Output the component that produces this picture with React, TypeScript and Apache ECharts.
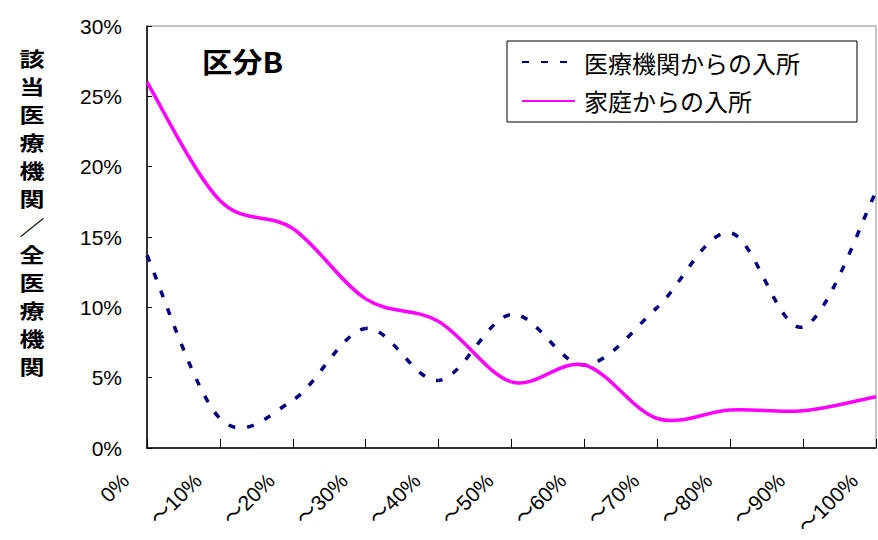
import React, { useEffect, useRef } from 'react';
import * as echarts from 'echarts';

const categories = ['0%', '～10%', '～20%', '～30%', '～40%', '～50%', '～60%', '～70%', '～80%', '～90%', '～100%'];
const medicalValues = [13.7, 2.1, 3.4, 8.5, 4.8, 9.5, 5.9, 10.0, 15.3, 8.6, 18.2];
const homeValues = [26.0, 17.6, 15.6, 10.6, 9.0, 4.7, 5.9, 2.1, 2.7, 2.65, 3.65];
const seriesNames = ['医療機関からの入所', '家庭からの入所'];
const yAxisTitle = '該当医療機関／全医療機関';
const chartTitle = '区分B';
const yMin = 0;
const yMax = 30;
const yStep = 5;

const JP = '"Noto Sans CJK JP", sans-serif';
const LAT = '"Liberation Sans", Arial, "Noto Sans CJK JP", sans-serif';

type Pt = number[];

function smoothSegments(pts: Pt[]) {
  const segs: Pt[][] = [];
  for (let i = 0; i < pts.length - 1; i++) {
    const p0 = pts[i];
    const p1 = pts[i + 1];
    const pm = pts[i - 1] || p0;
    const pn = pts[i + 2] || p1;
    const c1 = [p0[0] + (p1[0] - pm[0]) / 6, p0[1] + (p1[1] - pm[1]) / 6];
    const c2 = [p1[0] - (pn[0] - p0[0]) / 6, p1[1] - (pn[1] - p0[1]) / 6];
    segs.push([p0, c1, c2, p1]);
  }
  return segs;
}

function bezLen(s: Pt[]) {
  let len = 0;
  let px = s[0][0];
  let py = s[0][1];
  for (let k = 1; k <= 24; k++) {
    const t = k / 24;
    const u = 1 - t;
    const x = u * u * u * s[0][0] + 3 * u * u * t * s[1][0] + 3 * u * t * t * s[2][0] + t * t * t * s[3][0];
    const y = u * u * u * s[0][1] + 3 * u * u * t * s[1][1] + 3 * u * t * t * s[2][1] + t * t * t * s[3][1];
    len += Math.hypot(x - px, y - py);
    px = x;
    py = y;
  }
  return len;
}

function makeRenderItem(values: number[], color: string, dash: number[] | null) {
  return (params: any, api: any) => {
    const i = params.dataIndex;
    if (i >= values.length - 1) return null;
    const pts = values.map((v, k) => api.coord([k, v]));
    const segs = smoothSegments(pts);
    let offset = 0;
    for (let k = 0; k < i; k++) offset += bezLen(segs[k]);
    const [a, c1, c2, b] = segs[i];
    return {
      type: 'bezierCurve',
      shape: { x1: a[0], y1: a[1], x2: b[0], y2: b[1], cpx1: c1[0], cpy1: c1[1], cpx2: c2[0], cpy2: c2[1] },
      style: {
        stroke: color,
        fill: 'none',
        lineWidth: 3.5,
        lineDash: dash || undefined,
        lineDashOffset: dash ? offset : 0,
      },
    };
  };
}

export default function App() {
  const ref = useRef<HTMLDivElement>(null);
  useEffect(() => {
    const chart = echarts.init(ref.current!, null, { renderer: 'svg' });
    const blue = '#000080';
    const pink = '#FF00FF';
    const dash = [7, 12];
    chart.setOption({
      animation: false,
      backgroundColor: '#fff',
      grid: {
        left: 147,
        top: 26,
        right: 2,
        bottom: 92,
        show: true,
        borderColor: '#888',
        borderWidth: 1,
        containLabel: false,
      },
      legend: {
        orient: 'vertical',
        left: 507,
        top: 41,
        borderColor: '#000',
        borderWidth: 1,
        backgroundColor: '#fff',
        padding: [9, 57, 9, 14],
        itemWidth: 53,
        itemHeight: 14,
        itemGap: 15,
        itemStyle: { opacity: 0 },
        textStyle: { fontSize: 24, fontFamily: JP, color: '#000', padding: [0, 0, 0, 4] },
        data: seriesNames,
      },
      xAxis: {
        type: 'category',
        boundaryGap: false,
        data: categories,
        axisLine: { lineStyle: { color: '#000', width: 1.5 } },
        axisTick: { inside: true, length: 9, lineStyle: { color: '#000', width: 1 } },
        axisLabel: {
          rotate: 45,
          fontSize: 21,
          fontFamily: LAT,
          color: '#000',
          margin: 7,
          padding: [0, 31, 0, 0],
          interval: 0,
        },
        splitLine: { show: false },
      },
      yAxis: {
        type: 'value',
        min: yMin,
        max: yMax,
        interval: yStep,
        axisLine: { show: true, lineStyle: { color: '#000', width: 1.5 } },
        axisTick: { show: true, inside: true, length: 5, lineStyle: { color: '#000', width: 1 } },
        axisLabel: { formatter: '{value}%', fontSize: 21, fontFamily: LAT, color: '#000', margin: 25 },
        splitLine: { show: false },
      },
      series: [
        {
          name: seriesNames[0],
          type: 'line',
          symbol: 'none',
          data: [],
          lineStyle: { color: blue, width: 3.5, type: dash },
          itemStyle: { color: blue },
        },
        {
          name: seriesNames[1],
          type: 'line',
          symbol: 'none',
          data: [],
          lineStyle: { color: pink, width: 3.5 },
          itemStyle: { color: pink },
        },
        {
          name: seriesNames[0],
          type: 'custom',
          data: medicalValues.map((v, i) => [i, v]),
          encode: { x: 0, y: 1 },
          renderItem: makeRenderItem(medicalValues, blue, dash),
          itemStyle: { color: blue },
          z: 3,
        },
        {
          name: seriesNames[1],
          type: 'custom',
          data: homeValues.map((v, i) => [i, v]),
          encode: { x: 0, y: 1 },
          renderItem: makeRenderItem(homeValues, pink, null),
          itemStyle: { color: pink },
          z: 4,
        },
      ],
      graphic: [
        {
          type: 'text',
          x: 202,
          y: 47,
          scaleX: 1.08,
          style: { text: chartTitle, fontSize: 28, fontWeight: 'bold', fontFamily: JP, fill: '#000' },
        },
        {
          type: 'text',
          x: 32,
          y: 45,
          scaleX: 1.25,
          style: {
            text: yAxisTitle.split('').join('\n'),
            fontSize: 20,
            lineHeight: 28,
            fontWeight: 'bold',
            fontFamily: JP,
            fill: '#000',
            align: 'center',
            verticalAlign: 'top',
          },
        },
      ],
    });
    return () => chart.dispose();
  }, []);
  return <div ref={ref} style={{ position: 'fixed', left: 0, top: 0, width: 878, height: 540 }} />;
}
